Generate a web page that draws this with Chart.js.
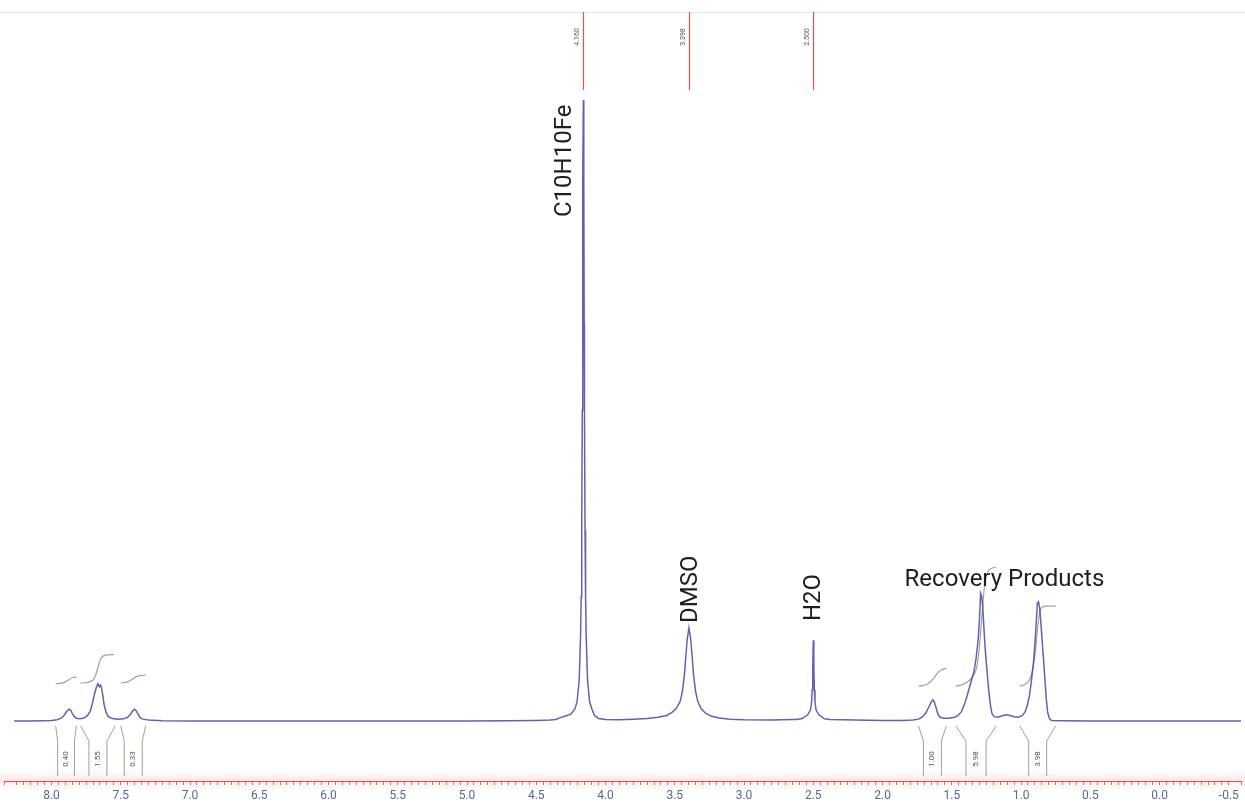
<!DOCTYPE html>
<html>
<head>
<meta charset="utf-8">
<script src="https://cdn.jsdelivr.net/npm/chart.js@4.4.1/dist/chart.umd.min.js"></script>
<style>
  html, body { margin: 0; padding: 0; background: #ffffff; }
  canvas { display: block; }
</style>
</head>
<body>
<canvas id="nmr" width="1245" height="805"></canvas>
<script>
// 1H NMR spectrum: chemical shift (ppm) and relative intensity (ferrocene singlet = 100)
const shiftPpm = [
  8.27, 8.15, 8.05, 8.00, 7.96, 7.93, 7.91, 7.895, 7.88, 7.87, 7.86, 7.85, 7.835, 7.82, 7.80,
  7.78, 7.76, 7.74, 7.72, 7.705, 7.69, 7.675, 7.665, 7.655, 7.648, 7.64, 7.63, 7.62, 7.605, 7.59,
  7.56, 7.52, 7.48, 7.45, 7.43, 7.415, 7.40, 7.39, 7.375, 7.36, 7.34, 7.30, 7.20, 7.00, 6.50,
  6.00, 5.50, 5.00, 4.70, 4.50,
  4.40, 4.36, 4.33, 4.29, 4.25, 4.22, 4.205, 4.19, 4.18, 4.176, 4.172, 4.168, 4.166, 4.163, 4.16,
  4.157, 4.154, 4.152, 4.148, 4.144, 4.14, 4.13, 4.115, 4.10, 4.08, 4.05, 4.00, 3.90,
  3.80, 3.70, 3.62, 3.56, 3.52, 3.49, 3.46, 3.445, 3.43, 3.42, 3.41, 3.398, 3.385, 3.375, 3.365,
  3.35, 3.335, 3.31, 3.28, 3.24, 3.18, 3.10, 3.00, 2.80, 2.65,
  2.62, 2.58, 2.54, 2.52, 2.512, 2.508, 2.504, 2.50, 2.496, 2.492, 2.488, 2.48, 2.46, 2.42, 2.38,
  2.20, 2.00, 1.85,
  1.78, 1.74, 1.71, 1.685, 1.665, 1.65, 1.636, 1.625, 1.612, 1.60, 1.585, 1.56, 1.52, 1.48,
  1.455, 1.43, 1.41, 1.39, 1.37, 1.355, 1.34, 1.325, 1.31, 1.30, 1.292, 1.285, 1.277, 1.268, 1.26,
  1.25, 1.24, 1.23, 1.22, 1.21, 1.195, 1.17, 1.14, 1.11, 1.08, 1.05, 1.02, 0.99,
  0.97, 0.955, 0.94, 0.925, 0.91, 0.90, 0.89, 0.882, 0.874, 0.866, 0.858, 0.848, 0.838, 0.828, 0.818,
  0.808, 0.795, 0.78, 0.70, 0.50, 0.00, -0.59
];
const intensity = [
  0, 0.02, 0.05, 0.08, 0.2, 0.45, 0.9, 1.4, 1.8, 1.9, 1.7, 1.2, 0.7, 0.45, 0.35,
  0.4, 0.55, 0.9, 1.6, 2.8, 4.3, 5.5, 6.0, 5.5, 5.8, 5.5, 4.2, 2.6, 1.3, 0.7,
  0.4, 0.3, 0.35, 0.6, 1.1, 1.6, 1.9, 1.7, 1.1, 0.55, 0.3, 0.15, 0.06, 0.02, 0,
  0, 0, 0.02, 0.05, 0.1,
  0.15, 0.25, 0.5, 0.8, 1.1, 2.0, 3.2, 6.6, 13.8, 20, 30.8, 50, 64, 87.7, 100,
  87.7, 64, 50, 30.8, 20, 13.8, 6.6, 3.1, 2.0, 0.9, 0.4, 0.25, 0.2,
  0.3, 0.4, 0.6, 0.9, 1.4, 2.0, 3.2, 4.8, 7.5, 10.5, 13.2, 15, 13.2, 10.5, 7.5,
  4.8, 3.2, 2.0, 1.3, 0.8, 0.5, 0.3, 0.2, 0.15, 0.25,
  0.25, 0.4, 1.0, 1.8, 3.1, 5.0, 8.5, 13, 8.5, 5.0, 3.1, 1.8, 1.0, 0.35, 0.25,
  0.15, 0.1, 0.1,
  0.15, 0.3, 0.7, 1.4, 2.3, 3.0, 3.4, 3.0, 2.0, 1.1, 0.6, 0.45, 0.45, 0.6,
  0.9, 1.5, 2.6, 4.0, 5.6, 6.8, 8.0, 10.0, 13.0, 16.5, 20.6, 20.2, 18.5, 15, 12,
  9.2, 6.5, 4.2, 2.4, 1.2, 0.7, 0.6, 0.8, 1.0, 0.9, 0.7, 0.6, 0.9,
  1.5, 2.5, 4.0, 6.5, 9.5, 12.5, 16.0, 19.0, 19.2, 18.3, 16.2, 13.0, 10.0, 6.8, 3.6,
  1.4, 0.4, 0.1, 0.05, 0, 0, 0
];

// Axis tick labels (ppm)
const tickLabels = ['8.0', '7.5', '7.0', '6.5', '6.0', '5.5', '5.0', '4.5', '4.0', '3.5',
                    '3.0', '2.5', '2.0', '1.5', '1.0', '0.5', '0.0', '-0.5'];

// Picked peaks shown at the top
const pickedShifts = [4.160, 3.398, 2.500];

// Assignments
const assignmentText = ['C10H10Fe', 'DMSO', 'H2O', 'Recovery Products'];
const assignmentPpm = [4.160, 3.398, 2.500, 1.12];

// Integration regions (ppm) and their values
const integralFrom = [7.97, 7.79, 7.50, 1.74, 1.47, 1.01];
const integralTo = [7.82, 7.54, 7.32, 1.54, 1.18, 0.75];
const integralValue = ['0.40', '1.55', '0.33', '1.00', '5.98', '3.98'];

// Integral curves (ppm, level on the intensity scale)
const integralCurvePpm = [
  [7.97, 7.93, 7.90, 7.87, 7.85, 7.82],
  [7.79, 7.74, 7.70, 7.68, 7.66, 7.64, 7.61, 7.55],
  [7.50, 7.45, 7.42, 7.39, 7.36, 7.32],
  [1.74, 1.69, 1.66, 1.63, 1.60, 1.57, 1.54],
  [1.47, 1.42, 1.37, 1.33, 1.31, 1.295, 1.28, 1.265, 1.245, 1.22, 1.18],
  [1.01, 0.97, 0.94, 0.915, 0.895, 0.88, 0.865, 0.85, 0.82, 0.75]
];
const integralCurveLevel = [
  [6.0, 6.1, 6.3, 6.7, 7.0, 7.1],
  [6.1, 6.2, 6.6, 7.5, 9.0, 10.2, 10.6, 10.7],
  [6.1, 6.3, 6.7, 7.1, 7.3, 7.4],
  [5.6, 5.8, 6.2, 6.9, 7.8, 8.3, 8.5],
  [5.6, 5.9, 6.6, 7.9, 10.0, 13.5, 17.5, 21.5, 23.8, 24.5, 24.8],
  [5.6, 5.9, 6.6, 8.3, 11.5, 15.0, 17.5, 18.3, 18.5, 18.5]
];

const FONT = 'Roboto, "Noto Sans", "DejaVu Sans", sans-serif';

const spectrumData = shiftPpm.map((p, i) => ({ x: p, y: intensity[i] }));
const integralDatasets = integralCurvePpm.map((ppms, k) => ({
  type: 'line',
  data: ppms.map((p, i) => ({ x: p, y: integralCurveLevel[k][i] })),
  borderColor: '#95a88f',
  borderWidth: 1.2,
  pointRadius: 0,
  tension: 0.35,
  order: 2
}));

// Decorations: top peak-pick bar, assignments, integral brackets, axis band
const decorations = {
  id: 'decorations',
  beforeDraw(chart) {
    const { ctx, chartArea } = chart;
    ctx.save();
    // soft band behind the ppm axis
    const g = ctx.createLinearGradient(0, chartArea.bottom - 12, 0, chartArea.bottom + 10);
    g.addColorStop(0, 'rgba(252,225,225,0)');
    g.addColorStop(0.5, 'rgba(250,215,215,0.55)');
    g.addColorStop(1, 'rgba(252,225,225,0)');
    ctx.fillStyle = g;
    ctx.fillRect(0, chartArea.bottom - 12, chart.width, 22);
    ctx.restore();
  },
  afterDatasetsDraw(chart) {
    const { ctx } = chart;
    const xs = chart.scales.x, ys = chart.scales.y;
    ctx.save();

    // top rule
    ctx.strokeStyle = '#e8e8e8';
    ctx.lineWidth = 1;
    ctx.beginPath();
    ctx.moveTo(0, 12.5);
    ctx.lineTo(chart.width, 12.5);
    ctx.stroke();

    // picked peak markers
    pickedShifts.forEach(p => {
      const x = Math.round(xs.getPixelForValue(p)) + 0.5;
      ctx.strokeStyle = 'rgb(235, 80, 80)';
      ctx.lineWidth = 1.2;
      ctx.beginPath();
      ctx.moveTo(x, 12);
      ctx.lineTo(x, 90);
      ctx.stroke();
      ctx.save();
      ctx.translate(x - 6, 37);
      ctx.rotate(-Math.PI / 2);
      ctx.fillStyle = '#555';
      ctx.font = '7px ' + FONT;
      ctx.textAlign = 'center';
      ctx.textBaseline = 'middle';
      ctx.fillText(p.toFixed(3), 0, 0);
      ctx.restore();
    });

    // assignments
    ctx.fillStyle = '#1e1e1e';
    const rotated = [
      { i: 0, dx: -18, bottom: 217 },
      { i: 1, dx: 2, bottom: 623 },
      { i: 2, dx: 1, bottom: 621 }
    ];
    ctx.font = '24px ' + FONT;
    rotated.forEach(r => {
      const x = xs.getPixelForValue(assignmentPpm[r.i]) + r.dx;
      ctx.save();
      ctx.translate(x, r.bottom);
      ctx.rotate(-Math.PI / 2);
      ctx.textAlign = 'left';
      ctx.textBaseline = 'middle';
      ctx.fillText(assignmentText[r.i], 0, 0);
      ctx.restore();
    });
    ctx.textAlign = 'center';
    ctx.textBaseline = 'alphabetic';
    ctx.fillText(assignmentText[3], xs.getPixelForValue(assignmentPpm[3]), 586);

    // integral brackets
    const base = ys.getPixelForValue(0);
    integralFrom.forEach((a, k) => {
      const xl = xs.getPixelForValue(a);
      const xr = xs.getPixelForValue(integralTo[k]);
      const inset = Math.max(2, Math.min(10, (xr - xl - 18) / 2));
      const top = base + 5, bend = base + 20, bottom = base + 55;
      ctx.strokeStyle = '#93a88d';
      ctx.lineWidth = 1;
      ctx.beginPath();
      ctx.moveTo(xl, top);
      ctx.lineTo(xl + inset, bend);
      ctx.lineTo(xl + inset, bottom);
      ctx.moveTo(xr, top);
      ctx.lineTo(xr - inset, bend);
      ctx.lineTo(xr - inset, bottom);
      ctx.stroke();
      ctx.save();
      ctx.translate((xl + xr) / 2, base + 38);
      ctx.rotate(-Math.PI / 2);
      ctx.fillStyle = '#50604c';
      ctx.font = '8px ' + FONT;
      ctx.textAlign = 'center';
      ctx.textBaseline = 'middle';
      ctx.fillText(integralValue[k], 0, 0);
      ctx.restore();
    });
    ctx.restore();
  }
};

new Chart(document.getElementById('nmr'), {
  type: 'line',
  data: {
    datasets: [
      {
        data: spectrumData,
        borderColor: 'rgba(70,70,165,0.85)',
        borderWidth: 1.5,
        pointRadius: 0,
        tension: 0,
        order: 1
      },
      ...integralDatasets
    ]
  },
  options: {
    responsive: false,
    animation: false,
    parsing: false,
    layout: { padding: 0 },
    plugins: { legend: { display: false }, tooltip: { enabled: false } },
    scales: {
      x: {
        type: 'linear',
        reverse: true,
        min: -0.588,
        max: 8.343,
        border: { display: true, color: '#ee4b4b', width: 1 },
        grid: { display: true, drawOnChartArea: false, drawTicks: true, tickLength: 4, color: '#ee6666' },
        ticks: {
          stepSize: 0.05,
          autoSkip: false,
          maxRotation: 0,
          padding: 4,
          color: '#5a6790',
          font: { family: FONT, size: 12 },
          callback: (v) => {
            const k = Math.round(v * 100);
            if (k % 50 !== 0) return '';
            const s = (k / 100).toFixed(1);
            return tickLabels.includes(s) ? s : '';
          }
        },
        afterFit: (s) => { s.height = 24; }
      },
      y: {
        display: false,
        min: -9.66,
        max: 116.1
      }
    }
  },
  plugins: [decorations]
});
</script>
</body>
</html>
